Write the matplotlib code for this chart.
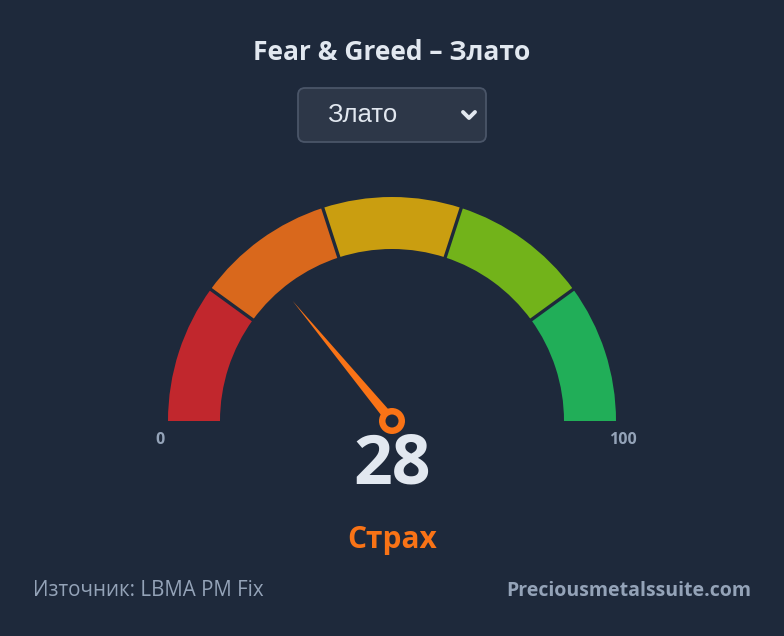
import matplotlib.pyplot as plt
import numpy as np
from matplotlib.patches import Wedge, Polygon, Circle, FancyBboxPatch

# gauge data
score = 28
label = "Страх"
bounds = [0, 20, 40, 60, 80, 100]
seg_colors = ["#c1272d", "#d9681c", "#ca9e10", "#72b31a", "#21ae58"]
title = "Fear & Greed – Злато"
selected = "Злато"
source = "Източник: LBMA PM Fix"
site = "Preciousmetalssuite.com"

BG = "#1e293b"
TEXT = "#e2e8f0"
MUTED = "#94a3b8"
ORANGE = "#f97316"

W, H = 784, 636
CX, CY = 392, H - 421
R_OUT, R_IN = 224, 172


def val_to_angle(v):
    return 180 - v * 180 / 100


fig = plt.figure(figsize=(W / 100, H / 100), dpi=100, facecolor=BG)
ax = fig.add_axes([0, 0, 1, 1])
ax.set_xlim(0, W)
ax.set_ylim(0, H)
ax.set_aspect("equal")
ax.axis("off")
ax.set_facecolor(BG)

# segments
for i, col in enumerate(seg_colors):
    a1 = val_to_angle(bounds[i + 1])
    a2 = val_to_angle(bounds[i])
    ax.add_patch(Wedge((CX, CY), R_OUT, a1, a2, width=R_OUT - R_IN,
                       facecolor=col, edgecolor="none"))

# gaps between segments
for b in bounds[1:-1]:
    a = np.radians(val_to_angle(b))
    ax.plot([CX + (R_IN - 2) * np.cos(a), CX + (R_OUT + 2) * np.cos(a)],
            [CY + (R_IN - 2) * np.sin(a), CY + (R_OUT + 2) * np.sin(a)],
            color=BG, lw=2.4, solid_capstyle="butt")

# needle
a = np.radians(val_to_angle(score))
length = 156
tip = (CX + length * np.cos(a), CY + length * np.sin(a))
px, py = -np.sin(a), np.cos(a)
half = 5
needle = Polygon([tip, (CX + half * px, CY + half * py), (CX - half * px, CY - half * py)],
                 closed=True, facecolor=ORANGE, edgecolor="none")
ax.add_patch(needle)
ax.add_patch(Circle((CX, CY), 13, facecolor=ORANGE, edgecolor="none"))
ax.add_patch(Circle((CX, CY), 6.5, facecolor=BG, edgecolor="none"))

# scale labels
ax.text(160, H - 440, "0", ha="center", va="center", color=MUTED,
        fontsize=11.5, fontweight="bold", family="Open Sans")
ax.text(623, H - 440, "100", ha="center", va="center", color=MUTED,
        fontsize=11.5, fontweight="bold", family="Open Sans")

# value and label
ax.text(CX, H - 466, str(score), ha="center", va="center", color=TEXT,
        fontsize=49, fontweight="bold", family="Open Sans")
ax.text(CX, H - 540, label, ha="center", va="center", color=ORANGE,
        fontsize=21.5, fontweight="bold", family="Open Sans")

# title
ax.text(CX, H - 53, title, ha="center", va="center", color=TEXT,
        fontsize=19, fontweight="bold", family="Open Sans")

# dropdown
ax.add_patch(FancyBboxPatch((298, H - 142), 188, 54,
                            boxstyle="round,pad=0,rounding_size=7",
                            facecolor="#2d3748", edgecolor="#4a5568", lw=1.3))
ax.text(362, H - 115, selected, ha="center", va="center", color=TEXT,
        fontsize=18.5, family="Liberation Sans")
ax.plot([463, 469, 475], [H - 112, H - 118, H - 112], color=TEXT, lw=2.8,
        solid_capstyle="round", solid_joinstyle="round")

# footer
ax.text(33, H - 591, source, ha="left", va="center", color=MUTED,
        fontsize=14.8, family="Open Sans")
ax.text(751, H - 591, site, ha="right", va="center", color=MUTED,
        fontsize=14, fontweight="bold", family="Open Sans")

fig.savefig("out.png", dpi=100, facecolor=BG)
